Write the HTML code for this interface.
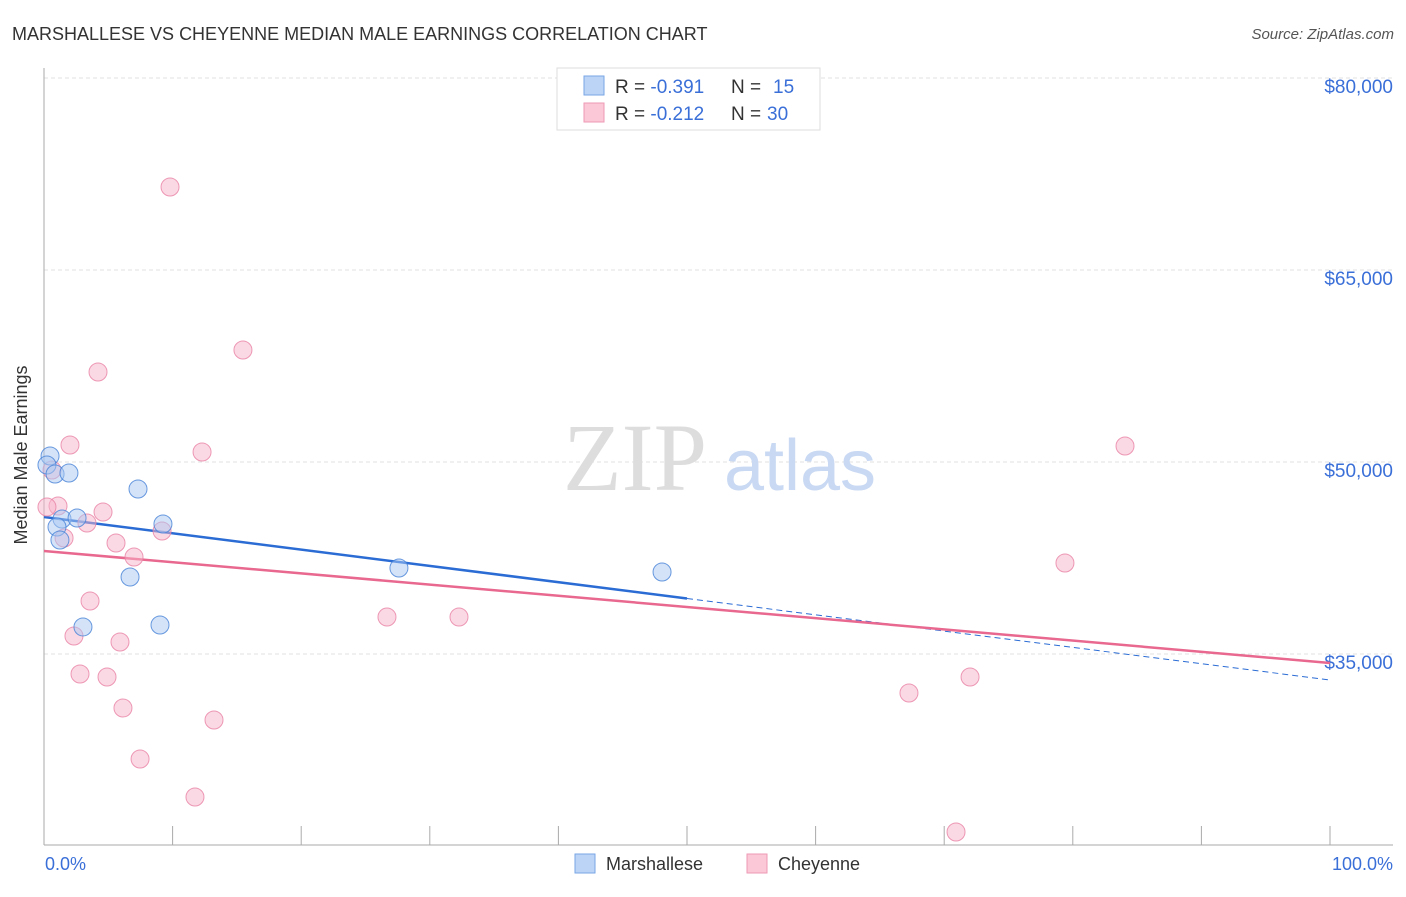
<!DOCTYPE html>
<html><head><meta charset="utf-8"><style>
body{margin:0;background:#fff;font-family:"Liberation Sans",sans-serif}
</style></head><body>
<svg width="1406" height="892" xmlns="http://www.w3.org/2000/svg" font-family="Liberation Sans, sans-serif">
<text x="12" y="40" font-size="18" fill="#333">MARSHALLESE VS CHEYENNE MEDIAN MALE EARNINGS CORRELATION CHART</text>
<text x="1394" y="39" font-size="15" fill="#555" font-style="italic" text-anchor="end">Source: ZipAtlas.com</text>
<g id="grid"></g>
<text x="635" y="490" font-size="96" fill="#ddd" font-family="Liberation Serif, serif" text-anchor="middle">ZIP</text>
<text x="800" y="490" font-size="72" fill="#c9d9f3" text-anchor="middle">atlas</text>
<line x1="44" y1="68" x2="44" y2="845" stroke="#aaa"/>
<line x1="44" y1="845" x2="1393" y2="845" stroke="#aaa"/>
<g id="ticks"></g>
<text x="27" y="455" font-size="18" fill="#333" text-anchor="middle" transform="rotate(-90 27 455)">Median Male Earnings</text>
<text x="45" y="870" font-size="18" fill="#3a6fd8">0.0%</text>
<text x="1393" y="870" font-size="18" fill="#3a6fd8" text-anchor="end">100.0%</text>
<g id="trends"></g>
<g id="points"></g>
<g>
<rect x="557" y="68" width="263" height="62" fill="#fff" stroke="#ddd"/>
<rect x="584" y="76" width="20" height="19" fill="#bcd4f6" stroke="#7aa6e6"/>
<rect x="584" y="103" width="20" height="19" fill="#fbc8d8" stroke="#ee9ab5"/>
<text x="615" y="93" font-size="19" fill="#333">R = <tspan fill="#3a6fd8">-0.391</tspan><tspan x="731">N = </tspan><tspan fill="#3a6fd8" x="773">15</tspan></text>
<text x="615" y="120" font-size="19" fill="#333">R = <tspan fill="#3a6fd8">-0.212</tspan><tspan x="731">N = </tspan><tspan fill="#3a6fd8" x="767">30</tspan></text>
</g>
<g>
<rect x="575" y="854" width="20" height="19" fill="#bcd4f6" stroke="#7aa6e6"/>
<text x="606" y="870" font-size="18" fill="#333">Marshallese</text>
<rect x="747" y="854" width="20" height="19" fill="#fbc8d8" stroke="#ee9ab5"/>
<text x="778" y="870" font-size="18" fill="#333">Cheyenne</text>
</g>
</svg>
<script>
const yTicks=[35000,50000,65000,80000];
const yTickLabels=["$35,000","$50,000","$65,000","$80,000"];
const blueX=[0.47,0.23,0.86,1.94,7.31,1.40,2.57,1.01,1.24,9.25,6.69,3.03,9.02,27.6,48.06];
const blueY=[50469,49766,49063,49141,47891,45547,45625,44922,43906,45156,41016,37109,37266,41719,41406];
const pinkX=[9.80,15.47,4.20,2.02,12.29,84.06,0.62,1.09,0.23,4.59,3.34,1.56,5.60,7.00,9.18,79.39,3.58,2.33,5.91,26.67,32.27,2.80,4.90,6.14,13.22,7.47,11.74,67.26,72.01,70.92];
const pinkY=[71484,58750,57031,51328,50781,51250,49375,46563,46484,46094,45234,44063,43672,42578,44609,42109,39141,36406,35938,37891,37891,33438,33203,30781,29844,26797,23828,31953,33203,21094];
const blueTrend=[45703,32969];
const blueSolidEnd=50;
const pinkTrend=[43047,34297];
const NS="http://www.w3.org/2000/svg";
const X=p=>44+p*12.86, Y=v=>462-(v-50000)*0.0128;
function mk(t,a,parent){const e=document.createElementNS(NS,t);for(const k in a)e.setAttribute(k,a[k]);document.getElementById(parent).appendChild(e);return e;}
yTicks.forEach((v,i)=>{
 const l=mk('line',{x1:44,x2:1393,y1:Y(v),y2:Y(v),stroke:'#e2e2e2','stroke-dasharray':'4,3'},'grid');
 
 
 const t=mk('text',{x:1393,y:Y(v)+25-10,'font-size':19,fill:'#3a6fd8','text-anchor':'end'},'grid');
 
 
 t.textContent=yTickLabels[i];
});
for(let i=1;i<=10;i++){
 const l=mk('line',{x1:X(i*10),x2:X(i*10),y1:826,y2:845,stroke:'#aaa'},'ticks');
 
 
}
const by=p=>blueTrend[0]+(blueTrend[1]-blueTrend[0])*p/100;
let l=mk('line',{x1:X(0),y1:Y(by(0)),x2:X(blueSolidEnd),y2:Y(by(blueSolidEnd)),stroke:'#2b6cd4','stroke-width':2.5},'trends');


l=mk('line',{x1:X(blueSolidEnd),y1:Y(by(blueSolidEnd)),x2:X(100),y2:Y(by(100)),stroke:'#2b6cd4','stroke-width':1,'stroke-dasharray':'6,4'},'trends');


l=mk('line',{x1:X(0),y1:Y(pinkTrend[0]),x2:X(100),y2:Y(pinkTrend[1]),stroke:'#e8688f','stroke-width':2.5},'trends');


pinkX.forEach((x,i)=>{
 const c=mk('circle',{cx:X(x),cy:Y(pinkY[i]),r:9,fill:'rgba(248,180,202,0.5)',stroke:'rgba(232,130,165,0.8)','stroke-width':1},'points');
 
 
});
blueX.forEach((x,i)=>{
 const c=mk('circle',{cx:X(x),cy:Y(blueY[i]),r:9,fill:'rgba(170,200,242,0.5)',stroke:'rgba(70,130,215,0.8)','stroke-width':1},'points');
 
 
});
</script>
</body></html>
